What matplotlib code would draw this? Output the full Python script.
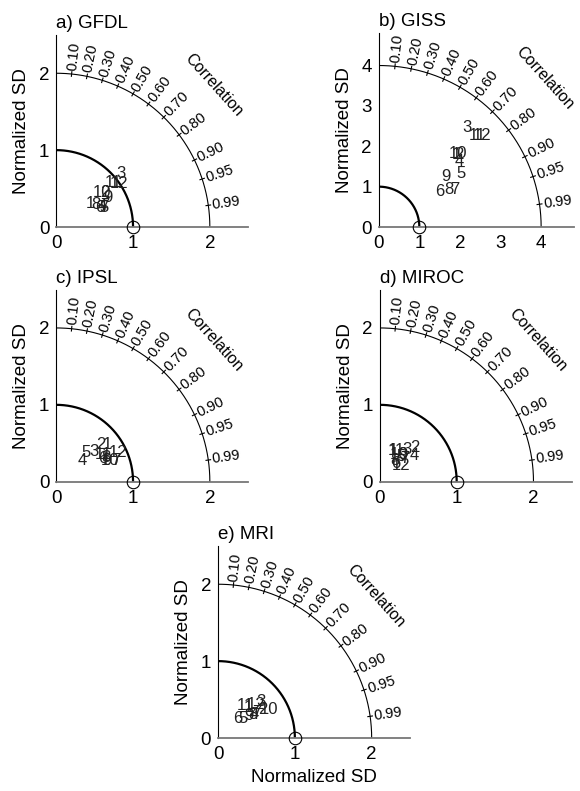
import numpy as np
import matplotlib.pyplot as plt

plt.rcParams['font.family'] = ['Liberation Sans', 'DejaVu Sans']

# month labels used as markers
months = [str(m) for m in range(1, 13)]
titles = ['a) GFDL', 'b) GISS', 'c) IPSL', 'd) MIROC', 'e) MRI']
outer_sd = [2, 4, 2, 2, 2]       # radius of the outer (correlation) arc
axis_max = [2.5, 4.8, 2.5, 2.5, 2.5]
corr_ticks = [0.10, 0.20, 0.30, 0.40, 0.50, 0.60, 0.70, 0.80, 0.90, 0.95, 0.99]

# normalized SD along x (SD*R) and y (SD*sin(acos R)), months 1..12
gfdl_x = [0.45, 0.63, 0.84, 0.60, 0.62, 0.57, 0.63, 0.51, 0.67, 0.60, 0.74, 0.82]
gfdl_y = [0.31, 0.45, 0.70, 0.27, 0.25, 0.25, 0.28, 0.29, 0.39, 0.45, 0.58, 0.57]
giss_x = [1.90, 1.97, 2.17, 1.98, 2.03, 1.51, 1.88, 1.72, 1.66, 1.95, 2.43, 2.55]
giss_y = [1.80, 1.80, 2.46, 1.62, 1.33, 0.87, 0.92, 0.92, 1.25, 1.82, 2.27, 2.27]
ipsl_x = [0.66, 0.58, 0.49, 0.34, 0.39, 0.60, 0.77, 0.64, 0.66, 0.70, 0.62, 0.81]
ipsl_y = [0.48, 0.48, 0.39, 0.27, 0.38, 0.30, 0.27, 0.31, 0.28, 0.28, 0.36, 0.38]
miroc_x = [0.18, 0.46, 0.35, 0.45, 0.28, 0.20, 0.33, 0.20, 0.30, 0.25, 0.22, 0.27]
miroc_y = [0.40, 0.44, 0.42, 0.34, 0.33, 0.24, 0.30, 0.28, 0.36, 0.36, 0.41, 0.21]
mri_x = [0.40, 0.58, 0.56, 0.47, 0.32, 0.25, 0.50, 0.45, 0.40, 0.66, 0.36, 0.50]
mri_y = [0.40, 0.37, 0.48, 0.30, 0.26, 0.26, 0.33, 0.31, 0.29, 0.37, 0.42, 0.44]

all_x = [gfdl_x, giss_x, ipsl_x, miroc_x, mri_x]
all_y = [gfdl_y, giss_y, ipsl_y, miroc_y, mri_y]

# axes rectangles (figure fractions)
rects = [[0.097, 0.713, 0.331, 0.243],
         [0.653, 0.713, 0.336, 0.245],
         [0.097, 0.391, 0.331, 0.243],
         [0.655, 0.391, 0.331, 0.243],
         [0.376, 0.067, 0.331, 0.243]]


def taylor(ax, title, xs, ys, r_out, lim, last=False):
    th = np.linspace(0, np.pi / 2, 300)
    ax.plot(np.cos(th), np.sin(th), 'k-', lw=1.6)
    ax.plot(r_out * np.cos(th), r_out * np.sin(th), 'k-', lw=0.8)
    for c in corr_ticks:
        a = np.arccos(c)
        ax.plot([0.985 * r_out * np.cos(a), 1.015 * r_out * np.cos(a)],
                [0.985 * r_out * np.sin(a), 1.015 * r_out * np.sin(a)], 'k-', lw=0.8)
        ax.text(1.025 * r_out * np.cos(a), 1.025 * r_out * np.sin(a), '%.2f' % c,
                rotation=np.degrees(a), rotation_mode='anchor', ha='left', va='center',
                fontsize=10.5, clip_on=False)
    a = np.radians(42)
    ax.text(1.38 * r_out * np.cos(a), 1.38 * r_out * np.sin(a), 'Correlation',
            rotation=-48, rotation_mode='anchor', ha='center', va='center',
            fontsize=11.5, clip_on=False)
    ax.plot(1, 0, 'o', mfc='none', mec='k', mew=0.8, ms=9, clip_on=False, zorder=5)
    for m, x, y in zip(months, xs, ys):
        ax.text(x, y, m, ha='center', va='center', fontsize=12, color='#222222')

    ax.set_xlim(0, lim)
    ax.set_ylim(0, lim)
    ticks = list(range(0, r_out + 1))
    ax.set_xticks(ticks)
    ax.set_yticks(ticks)
    for s in ['top', 'right']:
        ax.spines[s].set_visible(False)
    ax.spines['bottom'].set_color('#777777')
    ax.spines['bottom'].set_linewidth(1.3)
    ax.spines['left'].set_linewidth(0.8)
    ax.tick_params(length=0, labelsize=13.5)
    ax.tick_params(axis='x', pad=6)
    ax.tick_params(axis='y', pad=5)
    ax.set_ylabel('Normalized SD', fontsize=13.5, labelpad=6)
    if last:
        ax.set_xlabel('Normalized SD', fontsize=13.5, labelpad=4)
    ax.set_title(title, loc='left', fontsize=13.5, pad=5)


fig = plt.figure(figsize=(5.8, 7.91), dpi=100)
for i in range(5):
    ax = fig.add_axes(rects[i])
    taylor(ax, titles[i], all_x[i], all_y[i], outer_sd[i], axis_max[i], last=(i == 4))

plt.savefig('out.png', dpi=100)
